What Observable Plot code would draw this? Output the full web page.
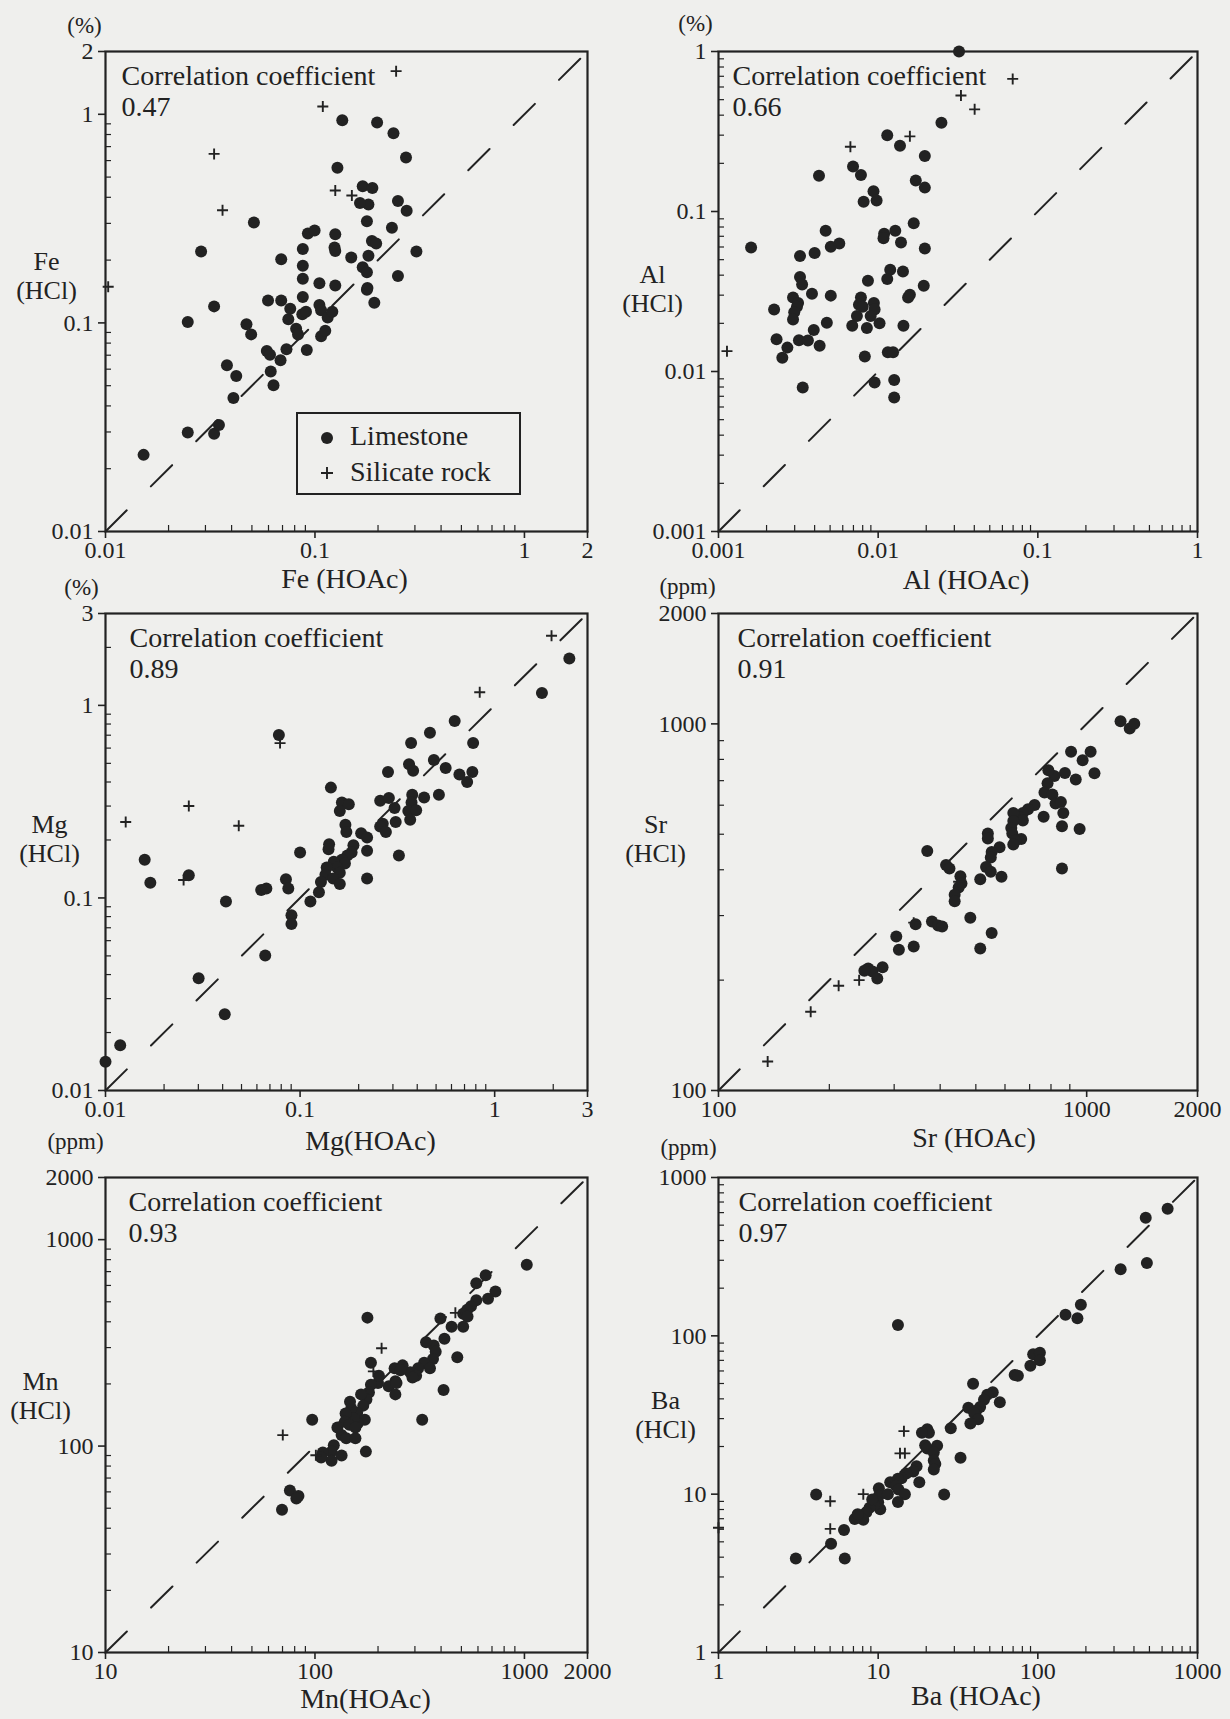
<!DOCTYPE html>
<html>
<head>
<meta charset="utf-8">
<script src="https://cdn.jsdelivr.net/npm/d3@7"></script>
<script src="https://cdn.jsdelivr.net/npm/@observablehq/plot@0.6"></script>
<style>
  html, body { margin: 0; padding: 0; background: #efefed; overflow: hidden; }
  #page { position: relative; width: 1230px; height: 1719px; font-family: 'Liberation Serif', 'Times New Roman', serif; color: #222; }
  .panel { position: absolute; }
  #legend { position: absolute; left: 296px; top: 412px; width: 225px; height: 83px; box-sizing: border-box; border: 2px solid #222; }
</style>
</head>
<body>
<div id="page"></div>
<script>
// Acid-leach comparison: HCl vs HOAc extractable contents, log-log scatter per element.

// ---- Fe (%) ----
const feLimestone = [[0.0152,0.0233],[0.0247,0.0298],[0.033,0.0294],[0.0348,0.0324],[0.0408,0.0436],[0.038,0.0627],[0.0421,0.0557],[0.0247,0.101],[0.0286,0.22],[0.033,0.12],[0.0511,0.303],[0.0471,0.0984],[0.0496,0.0881],[0.0597,0.128],[0.069,0.128],[0.069,0.202],[0.0589,0.0733],[0.061,0.0703],[0.0615,0.0585],[0.0634,0.0503],[0.0685,0.0662],[0.0731,0.0748],[0.0746,0.104],[0.0762,0.117],[0.0813,0.0937],[0.083,0.088],[0.0875,0.226],[0.0875,0.188],[0.0875,0.163],[0.0875,0.133],[0.087,0.11],[0.0906,0.113],[0.0925,0.268],[0.0996,0.277],[0.0914,0.0742],[0.105,0.155],[0.105,0.122],[0.107,0.0863],[0.112,0.0918],[0.107,0.115],[0.115,0.106],[0.125,0.266],[0.124,0.23],[0.125,0.221],[0.125,0.151],[0.121,0.113],[0.128,0.555],[0.135,0.937],[0.149,0.206],[0.169,0.185],[0.177,0.175],[0.178,0.147],[0.177,0.144],[0.192,0.125],[0.18,0.21],[0.177,0.307],[0.18,0.369],[0.164,0.376],[0.169,0.452],[0.188,0.443],[0.187,0.247],[0.196,0.24],[0.198,0.914],[0.237,0.811],[0.233,0.286],[0.249,0.384],[0.249,0.168],[0.272,0.62],[0.274,0.345],[0.305,0.22]];
const feSilicate = [[0.244,1.61],[0.109,1.09],[0.033,0.646],[0.0362,0.347],[0.125,0.431],[0.15,0.408],[0.0103,0.149]];
const feTicks = [0.01, 0.1, 1, 2];

// ---- Al (%) ----
const alLimestone = [[0.0321,1.0],[0.0249,0.359],[0.0114,0.3],[0.0137,0.258],[0.0196,0.222],[0.00696,0.191],[0.0078,0.169],[0.00426,0.167],[0.0172,0.156],[0.0196,0.141],[0.00935,0.134],[0.00978,0.117],[0.00811,0.115],[0.0167,0.0843],[0.00469,0.0758],[0.0128,0.0758],[0.0109,0.0726],[0.0108,0.068],[0.0139,0.064],[0.00571,0.063],[0.00505,0.0603],[0.0016,0.0596],[0.0196,0.0587],[0.004,0.055],[0.00324,0.0527],[0.0119,0.0433],[0.0114,0.0379],[0.0143,0.0422],[0.00863,0.0369],[0.00324,0.0389],[0.00334,0.035],[0.0193,0.0344],[0.0158,0.0302],[0.0154,0.029],[0.00385,0.0306],[0.00505,0.0298],[0.00293,0.029],[0.00315,0.0268],[0.0031,0.0254],[0.00298,0.0235],[0.00293,0.0211],[0.00223,0.0244],[0.0078,0.029],[0.00758,0.0261],[0.00801,0.0254],[0.0094,0.0268],[0.0095,0.0244],[0.00736,0.0222],[0.00898,0.0222],[0.0102,0.02],[0.00688,0.0193],[0.0085,0.0187],[0.00477,0.0202],[0.00395,0.0182],[0.0144,0.0193],[0.00231,0.0159],[0.00319,0.0157],[0.00363,0.0156],[0.0027,0.0141],[0.00251,0.0122],[0.0043,0.0145],[0.00825,0.0124],[0.0115,0.0132],[0.0124,0.0132],[0.0095,0.00853],[0.0126,0.00885],[0.0126,0.00689],[0.00337,0.00795]];
const alSilicate = [[0.0696,0.674],[0.033,0.531],[0.0402,0.435],[0.0158,0.295],[0.0067,0.254],[0.00113,0.0134]];
const alTicks = [0.001, 0.01, 0.1, 1];

// ---- Mg (%) ----
const mgLimestone = [[2.42,1.75],[1.75,1.16],[0.623,0.83],[0.465,0.72],[0.372,0.637],[0.775,0.637],[0.487,0.521],[0.363,0.495],[0.381,0.457],[0.283,0.451],[0.56,0.473],[0.659,0.437],[0.722,0.4],[0.768,0.451],[0.517,0.343],[0.144,0.374],[0.377,0.343],[0.374,0.313],[0.434,0.332],[0.258,0.32],[0.286,0.33],[0.164,0.313],[0.178,0.307],[0.16,0.283],[0.36,0.283],[0.395,0.285],[0.306,0.293],[0.368,0.255],[0.266,0.243],[0.258,0.235],[0.31,0.248],[0.276,0.22],[0.171,0.24],[0.173,0.22],[0.206,0.217],[0.221,0.206],[0.322,0.166],[0.188,0.188],[0.184,0.172],[0.221,0.176],[0.141,0.19],[0.14,0.179],[0.1,0.172],[0.175,0.166],[0.164,0.158],[0.149,0.154],[0.17,0.151],[0.155,0.144],[0.137,0.144],[0.135,0.132],[0.16,0.135],[0.148,0.126],[0.221,0.126],[0.128,0.121],[0.16,0.118],[0.125,0.107],[0.113,0.0957],[0.0903,0.0812],[0.0903,0.0733],[0.0846,0.125],[0.087,0.112],[0.0778,0.702],[0.0631,0.11],[0.0671,0.112],[0.0416,0.0957],[0.0662,0.0503],[0.0301,0.0383],[0.041,0.0249],[0.0159,0.158],[0.017,0.12],[0.0268,0.131],[0.0119,0.0172],[0.01,0.0141]];
const mgSilicate = [[1.96,2.3],[0.838,1.17],[0.0789,0.637],[0.0268,0.3],[0.0127,0.248],[0.0484,0.237],[0.0252,0.124]];
const mgTicks = [0.01, 0.1, 1, 3];

// ---- Sr (ppm) ----
const srLimestone = [[1236,1016],[1309,972],[1347,1000],[907,839],[1025,839],[975,796],[1050,733],[934,705],[873,735],[817,721],[787,747],[783,689],[768,650],[807,642],[823,606],[851,612],[864,571],[857,526],[957,517],[857,403],[764,558],[722,601],[693,585],[671,571],[661,555],[632,571],[671,545],[632,543],[624,520],[628,502],[664,485],[640,480],[632,469],[539,502],[539,487],[580,461],[552,447],[549,432],[533,407],[549,395],[587,383],[514,377],[369,450],[415,412],[424,403],[454,384],[457,367],[449,358],[438,342],[438,328],[483,296],[552,269],[514,244],[380,289],[395,282],[405,280],[343,284],[304,263],[309,242],[339,247],[255,215],[262,211],[270,202],[279,217],[249,212]];
const srSilicate = [[136,120],[178,164],[212,193],[241,200],[339,287],[449,371]];
const srTicks = [100, 1000, 2000];

// ---- Mn (ppm) ----
const mnLimestone = [[1026,755],[727,561],[653,673],[589,615],[670,517],[589,508],[556,476],[533,457],[510,438],[535,424],[510,378],[449,378],[397,415],[478,269],[415,331],[369,307],[339,318],[377,286],[366,264],[332,253],[354,238],[311,238],[285,228],[304,219],[292,215],[325,134],[411,187],[262,246],[240,238],[256,233],[242,206],[225,195],[242,178],[245,202],[200,202],[185,198],[202,219],[181,182],[176,168],[166,178],[170,157],[159,145],[149,152],[173,134],[160,129],[178,419],[185,253],[153,136],[147,164],[140,144],[139,131],[146,127],[156,123],[134,113],[141,109],[156,109],[175,94],[128,123],[123,101],[120,94],[109,93],[120,85],[107,88],[134,90],[97,134],[69.6,49.2],[75.9,61],[83.4,57.3],[81.5,55.7]];
const mnSilicate = [[70.2,113],[101,90.2],[190,230],[208,298],[468,442]];
const mnTicks = [10, 100, 1000, 2000];

// ---- Ba (ppm) ----
const baLimestone = [[650,634],[474,557],[482,288],[330,263],[186,157],[149,136],[177,129],[13.3,117],[93.5,76.4],[103,78.1],[103,70.2],[89.8,64.7],[71.6,56.6],[75,56],[39.3,49.8],[52.2,44],[48.2,42.4],[46,39.5],[57.8,38],[43.5,35.5],[41.1,33.6],[36.7,35.1],[40,32.4],[42.3,29.7],[37.8,27.9],[28.5,26.1],[20.3,25.7],[20.8,24.4],[18.8,24.4],[32.8,17],[19.7,20.4],[20.3,19.4],[23.4,20.2],[22.3,18.3],[22.3,16.3],[22.8,15.5],[22.3,14.3],[25.9,9.95],[17.4,15],[16.6,13.9],[18.1,11.9],[15,13.5],[14,12.6],[13.3,12.5],[11.9,11.9],[12.9,11.3],[13.4,10.7],[14.7,10],[13.3,8.93],[10.1,10.9],[10.1,9.79],[10,8.89],[10.3,8.02],[9.45,8.56],[8.83,8.2],[8.43,7.69],[8.07,6.9],[7.13,6.98],[7.44,7.48],[9.18,9.27],[4.09,9.95],[6.11,5.94],[5.07,4.87],[6.18,3.93],[3.05,3.93],[11.5,10]];
const baSilicate = [[14.5,25],[13.7,18.1],[14.7,18.1],[8.07,10],[5.01,9.03],[5.01,6.04],[1.0,6.14]];
const baTicks = [1, 10, 100, 1000];

const correlations = ["0.47", "0.66", "0.89", "0.91", "0.93", "0.97"];

const ink = "#222";
const serif = "'Liberation Serif', 'Times New Roman', serif";

// Thin "+" glyph for silicate samples (stroked, not the filled d3 plus).
const plusSymbol = {
  draw(ctx, size) {
    const r = Math.sqrt(size / Math.PI);
    ctx.moveTo(-r, 0); ctx.lineTo(r, 0);
    ctx.moveTo(0, -r); ctx.lineTo(0, r);
  }
};

// Minor log ticks (2..9 per decade) strictly inside a domain.
function minorTicks([lo, hi]) {
  const out = [];
  for (let e = Math.floor(Math.log10(lo)); e <= Math.ceil(Math.log10(hi)); e++) {
    for (let m = 2; m <= 9; m++) {
      const v = +(m * Math.pow(10, e)).toPrecision(3);
      if (v > lo * 1.0001 && v < hi * 0.9999) out.push(v);
    }
  }
  return out;
}

const fmt = d => String(d);

function panel(o) {
  const W = 615, mt = 51, mb = 66;
  const mr = W - o.ml - o.fw;
  const dom = [o.ticks[0], o.ticks[o.ticks.length - 1]];
  const chart = Plot.plot({
    width: W,
    height: mt + o.fh + mb,
    marginLeft: o.ml, marginRight: mr, marginTop: mt, marginBottom: mb,
    x: {type: "log", domain: dom},
    y: {type: "log", domain: dom},
    style: {background: "transparent", color: ink, fontFamily: serif, fontSize: "24px", overflow: "visible"},
    marks: [
      Plot.tickX(minorTicks(dom), {x: d => d, insetTop: o.fh - 6, stroke: ink, strokeWidth: 1.2}),
      Plot.tickY(minorTicks(dom), {y: d => d, insetRight: o.fw - 6, stroke: ink, strokeWidth: 1.2}),
      Plot.axisX({ticks: o.ticks, tickFormat: fmt, tickSize: 7, tickPadding: 2, label: null, strokeWidth: 1.6, fontSize: 24}),
      Plot.axisY({ticks: o.ticks, tickFormat: fmt, tickSize: 7, tickPadding: 5, label: null, strokeWidth: 1.6, fontSize: 24}),
      Plot.frame({stroke: ink, strokeWidth: 2.2}),
      Plot.line(dom, {x: d => d, y: d => d, stroke: ink, strokeWidth: 2, strokeDasharray: "30,34"}),
      Plot.dot(o.lime, {x: d => d[0], y: d => d[1], r: 6, fill: ink, stroke: "none"}),
      Plot.dot(o.sil, {x: d => d[0], y: d => d[1], r: 5.5, symbol: plusSymbol, fill: "none", stroke: ink, strokeWidth: 1.9}),
      Plot.text([`Correlation coefficient\n${o.corr}`], {text: d => d, frameAnchor: "top-left", dx: o.cdx, dy: 11, lineAnchor: "top", textAnchor: "start", fontSize: 28, lineHeight: 1.11, fill: ink}),
      Plot.text([o.unit], {text: d => d, frameAnchor: "top-left", dx: o.udx, dy: o.udy, textAnchor: "middle", lineAnchor: "middle", fontSize: 23, fill: ink}),
      Plot.text([`${o.el}\n(HCl)`], {text: d => d, frameAnchor: "top-left", dx: o.ydx, dy: o.ydy, textAnchor: "middle", lineAnchor: "top", fontSize: 26, lineHeight: 1.12, fill: ink}),
      Plot.text([o.xName], {text: d => d, frameAnchor: "bottom", dx: o.xdx, dy: o.xdy, textAnchor: "middle", lineAnchor: "middle", fontSize: 28, fill: ink})
    ]
  });
  const div = document.createElement("div");
  div.className = "panel";
  div.style.left = o.left + "px";
  div.style.top = o.top + "px";
  div.appendChild(chart);
  document.getElementById("page").appendChild(div);
}

panel({left: 0,   top: 0,    ml: 105, fw: 482, fh: 480, ticks: feTicks, lime: feLimestone, sil: feSilicate, corr: correlations[0], cdx: 16, unit: "(%)",   udx: -21, udy: -26, el: "Fe", ydx: -59, ydy: 198, xName: "Fe (HOAc)", xdx: -2,  xdy: 48});
panel({left: 615, top: 0,    ml: 103, fw: 479, fh: 480, ticks: alTicks, lime: alLimestone, sil: alSilicate, corr: correlations[1], cdx: 14, unit: "(%)",   udx: -23, udy: -28, el: "Al", ydx: -66, ydy: 211, xName: "Al (HOAc)", xdx: 8,   xdy: 49});
panel({left: 0,   top: 562,  ml: 105, fw: 482, fh: 477, ticks: mgTicks, lime: mgLimestone, sil: mgSilicate, corr: correlations[2], cdx: 24, unit: "(%)",   udx: -24, udy: -26, el: "Mg", ydx: -56, ydy: 199, xName: "Mg(HOAc)",  xdx: 24,  xdy: 51});
panel({left: 615, top: 562,  ml: 103, fw: 479, fh: 477, ticks: srTicks, lime: srLimestone, sil: srSilicate, corr: correlations[3], cdx: 19, unit: "(ppm)", udx: -31, udy: -27, el: "Sr", ydx: -63, ydy: 199, xName: "Sr (HOAc)", xdx: 16,  xdy: 48});
panel({left: 0,   top: 1126, ml: 105, fw: 482, fh: 475, ticks: mnTicks, lime: mnLimestone, sil: mnSilicate, corr: correlations[4], cdx: 23, unit: "(ppm)", udx: -30, udy: -36, el: "Mn", ydx: -65, ydy: 192, xName: "Mn(HOAc)",  xdx: 19,  xdy: 47});
panel({left: 615, top: 1126, ml: 103, fw: 479, fh: 475, ticks: baTicks, lime: baLimestone, sil: baSilicate, corr: correlations[5], cdx: 20, unit: "(ppm)", udx: -30, udy: -30, el: "Ba", ydx: -53, ydy: 211, xName: "Ba (HOAc)", xdx: 18,  xdy: 44});

// Symbol key for the Fe panel.
const legend = document.createElement("div");
legend.id = "legend";
legend.innerHTML = `<svg width="221" height="79" style="display:block;font-family:${serif};font-size:28px;fill:${ink}">
  <circle cx="29" cy="24" r="6" fill="${ink}"></circle>
  <text x="52" y="31">Limestone</text>
  <path d="M23,59H35M29,53V65" stroke="${ink}" stroke-width="1.9" fill="none"></path>
  <text x="52" y="67">Silicate rock</text>
</svg>`;
document.getElementById("page").appendChild(legend);
</script>
</body>
</html>
